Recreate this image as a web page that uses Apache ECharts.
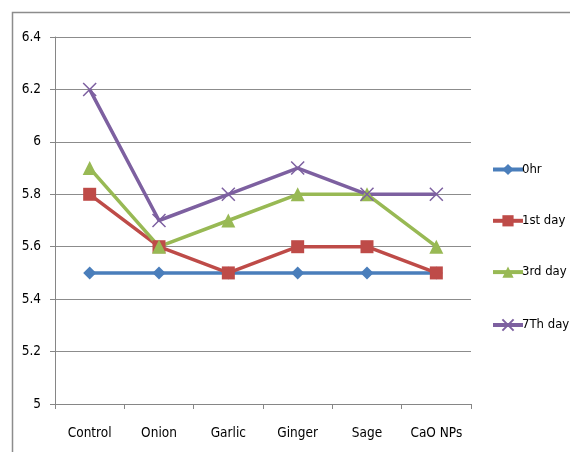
<!DOCTYPE html>
<html><head><meta charset="utf-8">
<script src="https://cdn.jsdelivr.net/npm/echarts@6/dist/echarts.min.js"></script>
<style>html,body{margin:0;padding:0;background:#fff}#c{width:570px;height:452px}</style>
</head><body><div id="c"></div>
<script>
const categories = ['Control','Onion','Garlic','Ginger','Sage','CaO NPs'];
const s0hr = [5.5,5.5,5.5,5.5,5.5,5.5];
const s1st = [5.8,5.6,5.5,5.6,5.6,5.5];
const s3rd = [5.9,5.6,5.7,5.8,5.8,5.6];
const s7th = [6.2,5.7,5.8,5.9,5.8,5.8];
const seriesNames = ['0hr','1st day','3rd day','7Th day'];
const yTicks = {min:5, max:6.4, interval:0.2};

const FONT = '"DejaVu Sans Condensed", "Liberation Sans Narrow", sans-serif';
const colors = ['#4A7EBB','#BE4B48','#98B954','#7D60A0'];
const xPath = 'path://M0,0L10,10M10,0L0,10';

const chart = echarts.init(document.getElementById('c'), null, {renderer:'canvas'});
function mk(name, data, color, symbol, size, extra) {
  return Object.assign({
    name, type:'line', data, symbol, symbolSize:size,
    lineStyle:{color, width:3.5},
    itemStyle:{color},
    emphasis:{disabled:true}
  }, extra || {});
}
chart.setOption({
  animation:false,
  color: colors,
  graphic:[{type:'rect', shape:{x:12.5,y:12.5,width:700,height:600}, style:{fill:'none', stroke:'#8c8c8c', lineWidth:1.5}, silent:true}],
  grid:{left:55, right:99, top:37, bottom:48, containLabel:false},
  legend:{
    orient:'vertical', left:486, top:158, itemGap:38.3, itemWidth:30, itemHeight:14,
    lineStyle:{width:4},
    textStyle:{fontFamily:FONT, fontSize:13, color:'#000', padding:[0,0,0,-6]},
    data: seriesNames
  },
  xAxis:{
    type:'category', data:categories, boundaryGap:true,
    axisLine:{lineStyle:{color:'#868686', width:1}},
    axisTick:{show:true, interval:0, alignWithLabel:false, length:5, lineStyle:{color:'#868686'}},
    axisLabel:{interval:0, fontFamily:FONT, fontSize:13.5, color:'#000', margin:22}
  },
  yAxis:{
    type:'value', min:yTicks.min, max:yTicks.max, interval:yTicks.interval,
    axisLine:{show:true, lineStyle:{color:'#868686'}},
    axisTick:{show:true, length:5, lineStyle:{color:'#868686'}},
    splitLine:{lineStyle:{color:'#8c8c8c', width:1}},
    axisLabel:{fontFamily:FONT, fontSize:13.5, color:'#000', margin:14,
      formatter: v => String(Math.round(v*10)/10)}
  },
  series:[
    mk(seriesNames[0], s0hr, colors[0], 'diamond', 13),
    mk(seriesNames[1], s1st, colors[1], 'rect', 13),
    mk(seriesNames[2], s3rd, colors[2], 'triangle', 14),
    mk(seriesNames[3], s7th, colors[3], xPath, 13, {itemStyle:{color:'none', borderColor:colors[3], borderWidth:1.5}})
  ]
});
</script></body></html>
